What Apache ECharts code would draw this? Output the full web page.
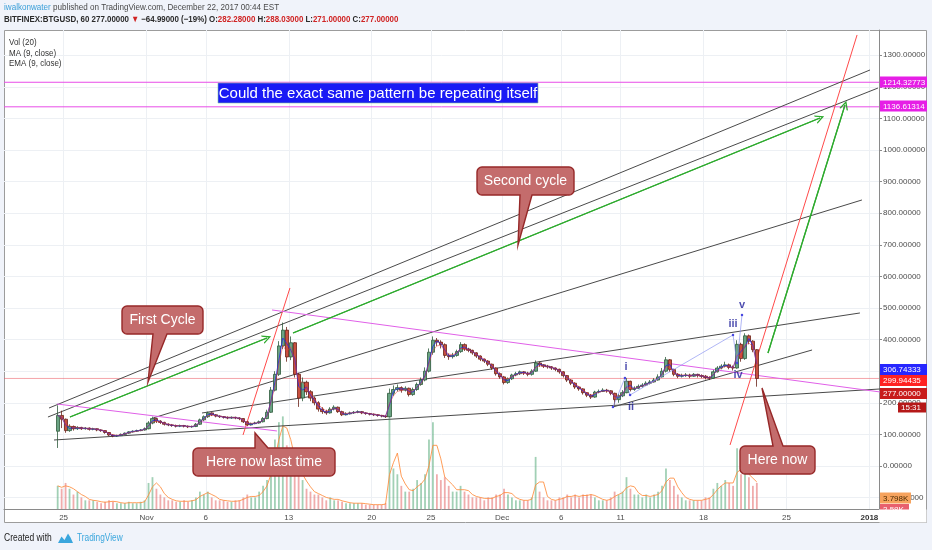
<!DOCTYPE html>
<html><head><meta charset="utf-8">
<script src="https://cdn.jsdelivr.net/npm/echarts@6/dist/echarts.min.js"></script>
<style>html,body{margin:0;padding:0;background:#f0f3fa}#c{width:932px;height:550px}</style>
</head><body><div id="c"></div><script>
// ---------- data (days since 25 Oct 2017, prices in USD) ----------
const tickDays   = [0, 7, 12, 19, 26, 31, 37, 42, 47, 54, 61, 68];
const tickLabels = ['25','Nov','6','13','20','25','Dec','6','11','18','25','2018'];
const priceTicks = [-100,0,100,200,300,400,500,600,700,800,900,1000,1100,1200,1300];
const candleStart = -0.5, candleStep = 1/3;   // 8-hour candles
const firstOpen = 110;
const closes = [160,148,112, 125,118,122, 118,120,116, 118,114,112, 106,98,95, 96,100,104, 108,110,112, 114,118,136, 150,142,138, 132,130,128, 126,128,126, 124,125,132, 146,156,168, 162,158,156, 154,152,154, 152,150,140, 130,134,136, 140,150,170, 240,290,380, 430,345,390, 290,215,265, 235,215,200, 180,172,168, 180,186,172, 162,165,168, 170,172,168, 166,164,162, 160,158,156, 230,242,248, 240,246,226, 242,258,272, 300,360,398, 392,384,350, 346,350,362, 384,370,366, 358,348,338, 332,322,310, 292,282,264, 276,288,292, 298,294,290, 300,326,320, 316,314,310, 306,298,286, 272,262,250, 244,232,224, 218,234,236, 240,238,230, 210,222,232, 268,242,246, 252,256,262, 266,272,282, 300,336,305, 290,284,286, 288,284,290, 286,284,280, 278,298,310, 316,320,312, 310,385,340, 412,395,368, 277];
const highs  = [192,175,150, 132,128,126, 124,123,122, 121,119,116, 113,107,100, 99,103,106, 110,113,115, 117,122,142, 156,152,145, 140,135,133, 131,131,130, 128,128,136, 150,160,172, 170,164,160, 158,157,157, 156,154,151, 141,137,140, 144,155,178, 250,300,395, 454,440,410, 392,295,280, 270,240,220, 205,186,178, 186,192,188, 175,170,172, 174,176,174, 170,168,166, 164,162,160, 245,255,258, 252,252,248, 248,264,280, 312,372,410, 405,398,388, 356,358,368, 392,388,374, 368,360,350, 340,335,324, 312,296,285, 280,292,298, 302,300,298, 306,334,330, 322,320,316, 312,308,300, 288,275,265, 252,246,234, 228,238,242, 246,244,240, 232,228,240, 278,270,252, 258,262,268, 272,278,290, 310,345,338, 308,294,292, 294,292,294, 292,290,288, 284,304,316, 322,330,324, 318,398,390, 420,416,398, 370];
const lows   = [57,120,105, 108,112,114, 114,115,112, 113,110,108, 102,95,91, 92,95,99, 102,106,108, 110,112,116, 132,136,133, 128,126,124, 122,123,122, 120,121,123, 130,142,152, 158,154,152, 150,148,149, 148,145,136, 126,128,132, 134,138,148, 168,236,285, 370,330,335, 280,187,205, 225,205,192, 172,165,162, 166,176,168, 158,160,163, 165,167,164, 162,160,158, 156,154,152, 154,222,236, 232,236,220, 222,238,254, 268,296,352, 380,372,342, 336,340,346, 358,364,360, 352,342,332, 326,316,304, 286,276,258, 260,272,284, 288,288,284, 286,298,314, 310,308,304, 300,292,280, 266,256,244, 238,226,218, 212,216,230, 234,232,224, 194,200,218, 230,236,238, 244,248,254, 258,264,270, 280,296,298, 284,278,280, 282,278,282, 280,278,274, 272,276,296, 306,312,306, 302,308,330, 336,385,360, 251];
const volumes = [8,7,9, 7,5,6, 4,3,3, 3,2.5,2, 2.5,3,2.5, 2,2,2, 2.5,2,2, 2.5,3,9, 11,7,5, 4,3,3, 2.5,2.5,3, 2.5,3,4, 6,5,6, 4,3,3, 3,2.5,2.5, 3,3,4, 5,4,4, 6,8,10, 18,24,30, 32,22,18, 14,12,10, 7,6,5, 5,4,3, 4,3,3, 2.5,2,2, 2,2,2, 1.5,1.5,1.5, 1.5,1.5,2, 32,14,12, 8,6,6, 7,10,9, 12,24,30, 12,10,11, 8,6,6, 8,6,5, 4,4,4, 3,4,4, 5,5,7, 5,4,3, 3,3,3, 4,18,6, 4,3,3, 3,4,4, 5,4,5, 4,5,5, 5,4,3, 3,3,4, 6,5,6, 11,7,5, 5,4,5, 4,5,6, 8,14,10, 8,5,4, 3,3,3, 3,3,4, 4,7,9, 8,10,9, 8,21,12, 13,11,8, 9];
// drawn trend lines: [startDay, startPrice, endDay, endPrice]
const blackLines   = [[-1.23,183.5,68.05,1253.2],[-1.32,155,68.72,1196],[7.55,151.9,67.37,841.8],[11.68,167.7,67.2,484.2],[-0.81,82.3,68.9,243.7],[46.36,186.7,63.16,367.1]];
const greenArrows  = [[0.54,155,17.16,405],[19.36,420.9,63.83,1101.3],[59.44,357.6,65.94,1142.4]];
const redLines     = [[15.14,98.1,19.1,563.3],[56.24,66.5,66.96,1364]];
const magentaLines = [[-0.56,196.2,18.0,110.8],[17.59,493.7,68.9,234.2]];
const levels = [1214.32773, 1136.61314];
const lastPrice = 277;
const waveDays   = [46.36,47.37,47.8,56.49,56.83,57.25];
const wavePrices = [186.7,278.5,224.7,414.6,326,477.8];
const waveNames  = ['i','ii','iii','iv','v'];
const waveLabelDays   = [47.46,47.88,56.49,56.91,57.25];
const waveLabelPrices = [313,186.7,449,288,509.5];

// ---------- derived ----------
const X_MIN = -5.03, X_MAX = 68.81, Y_MIN = -136.1, Y_MAX = 1379.7;
const n = Math.min(closes.length, highs.length, lows.length, volumes.length);
const candles = [], vols = [], ma = [], ema = [], vma = [];
let prev = firstOpen, e = null;
for (let i = 0; i < n; i++) {
  const d = candleStart + i * candleStep;
  candles.push([d, prev, closes[i], lows[i], highs[i]]);
  const up = closes[i] >= prev;
  vols.push({value: [d, volumes[i]], itemStyle: {color: up ? 'rgba(83,170,120,0.55)' : 'rgba(225,90,90,0.5)'}});
  const c0 = i > 0 ? closes[i-1] : closes[i];
  ma.push([d, (c0 + closes[i]) / 2]);
  e = e === null ? closes[i] : e + 0.55 * (closes[i] - e);
  ema.push([d, e]);
  let s = 0, k = 0;
  for (let j = Math.max(0, i - 2); j <= i; j++) { s += volumes[j]; k++; }
  vma.push([d, s / k]);
  prev = closes[i];
}
const seg = (l) => [[l[0], l[1]], [l[2], l[3]]];
const lineSeries = (l, color, w) => ({
  type: 'line', data: seg(l), showSymbol: false, silent: true, z: 4,
  lineStyle: {color: color, width: w || 1}, animation: false
});

const FONT = '"Liberation Sans", Arial, sans-serif';
const AXFONT = '"Liberation Sans Narrow", "Liberation Sans", Arial, sans-serif';

// ---------- graphic helpers ----------
function txt(x, y, text, font, fill, sx, extra) {
  return Object.assign({type: 'text', x: x, y: y, scaleX: sx || 1, z: 60, silent: true,
    style: {text: text, x: 0, y: 0, font: font, fill: fill, align: 'left', verticalAlign: 'middle',
            textAlign: 'left', textVerticalAlign: 'middle'}}, extra || {});
}
function richTxt(x, y, text, rich, font, sx) {
  const t = txt(x, y, text, font, '#333', sx);
  t.style.rich = rich;
  return t;
}
function tag(y, text, fill, textFill, x0, w, h) {
  x0 = x0 || 880; w = w || 47; h = h || 11;
  return [
    {type: 'rect', z: 70, silent: true, shape: {x: x0, y: y - h / 2, width: w, height: h}, style: {fill: fill}},
    Object.assign(txt(x0 + 3, y + 0.5, text, '8px ' + FONT, textFill || '#fff', 1), {z: 71})
  ];
}
function calloutPoly(b, side, base, tip, r) {
  const [x0, y0, x1, y1] = b, pts = [];
  const arc = (cx, cy, a0, a1) => { for (let k = 0; k <= 4; k++) { const a = a0 + (a1 - a0) * k / 4; pts.push([cx + r * Math.cos(a), cy + r * Math.sin(a)]); } };
  arc(x0 + r, y0 + r, Math.PI, 1.5 * Math.PI);
  if (side === 'top') pts.push([base[0], y0], tip, [base[1], y0]);
  arc(x1 - r, y0 + r, 1.5 * Math.PI, 2 * Math.PI);
  arc(x1 - r, y1 - r, 0, 0.5 * Math.PI);
  if (side === 'bottom') pts.push([base[1], y1], tip, [base[0], y1]);
  arc(x0 + r, y1 - r, 0.5 * Math.PI, Math.PI);
  return pts;
}
const callouts = [
  {text: 'First Cycle',        box: [122,306,203,334], side: 'bottom', base: [153,167], tip: [148,382]},
  {text: 'Second cycle',       box: [477,167,574,195], side: 'bottom', base: [520,532], tip: [518,245]},
  {text: 'Here now last time', box: [193,448,335,476], side: 'top',    base: [255,268], tip: [255,433]},
  {text: 'Here now',           box: [740,446,815,474], side: 'top',    base: [773,783], tip: [762,388]}
];

const graphics = [];
graphics.push({type: 'rect', z: -10, silent: true, shape: {x: 4.5, y: 30.5, width: 922, height: 492}, style: {fill: '#fff', stroke: '#9c9c9c', lineWidth: 1}});
// header
graphics.push(richTxt(4, 8, '{u|iwalkonwater}{t| published on TradingView.com, December 22, 2017 00:44 EST}',
  {u: {fill: '#3a9fd8', color: '#3a9fd8', font: '9px ' + FONT}, t: {fill: '#4a4a4a', color: '#4a4a4a', font: '9px ' + FONT}}, '9px ' + FONT, 0.9));
const bf = 'bold 9px ' + FONT;
graphics.push(richTxt(4, 19.5, '{k|BITFINEX:BTGUSD, 60 277.00000 }{r|\u25BC}{k| \u221264.99000 (\u221219%) O:}{r|282.28000}{k| H:}{r|288.03000}{k| L:}{r|271.00000}{k| C:}{r|277.00000}',
  {k: {fill: '#2b2b2b', color: '#2b2b2b', font: bf}, r: {fill: '#d02424', color: '#d02424', font: bf}}, bf, 0.88));
// legend
['Vol (20)', 'MA (9, close)', 'EMA (9, close)'].forEach((s, i) => graphics.push(txt(9, 43 + i * 10.3, s, '9px ' + FONT, '#333', 0.89)));
// blue text box
graphics.push({type: 'rect', z: 55, silent: true, shape: {x: 218, y: 83, width: 320, height: 20}, style: {fill: '#1a1af5', stroke: '#80c0a0', lineWidth: 0.6}});
graphics.push(Object.assign(txt(378, 93.5, 'Could the exact same pattern be repeating itself', '15px ' + FONT, '#fff', 1), {z: 56}));
graphics[graphics.length - 1].style.align = 'center'; graphics[graphics.length - 1].style.textAlign = 'center';
// callouts
callouts.forEach(c => {
  graphics.push({type: 'polygon', z: 55, silent: true, shape: {points: calloutPoly(c.box, c.side, c.base, c.tip, 5)},
    style: {fill: '#c46c6c', stroke: '#962828', lineWidth: 1.4}});
  const t = txt((c.box[0] + c.box[2]) / 2, (c.box[1] + c.box[3]) / 2, c.text, '14px ' + FONT, '#fff', 1);
  t.z = 56; t.style.align = 'center'; t.style.textAlign = 'center';
  graphics.push(t);
});
// price-axis tags
graphics.push(...tag(82, '1214.32773', '#e61ee6'));
graphics.push(...tag(106, '1136.61314', '#e61ee6'));
graphics.push(...tag(369.5, '306.74333', '#2626ff'));
graphics.push(...tag(380.5, '299.94435', '#ff2222'));
graphics.push(...tag(393.5, '277.00000', '#c81b1b'));
graphics.push(...tag(407.5, '15:31', '#b51818', '#fff', 898, 28, 10));
graphics.push(...tag(498, '3.798K', '#f6a35e', '#4a2a00', 880, 31, 11));
graphics.push(...tag(509.5, '2.58K', '#e8606e', '#fff', 880, 29, 11));
graphics.push({type: 'rect', z: 75, silent: true, shape: {x: 879.5, y: 509.6, width: 47, height: 13}, style: {fill: '#fff'}});
// footer
graphics.push(txt(4, 538, 'Created with', '10px ' + FONT, '#222', 0.85));
graphics.push({type: 'polygon', z: 60, silent: true, shape: {points: [[58,543],[61.5,536.5],[64.5,540],[68,533.5],[70.5,537.5],[73,543]]}, style: {fill: '#3aa6dd'}});
graphics.push(txt(77, 538, 'TradingView', '10px ' + FONT, '#3aa6dd', 0.83));

// ---------- chart ----------
const chart = echarts.init(document.getElementById('c'), null, {renderer: 'canvas'});
const gridPos = {left: 4, right: 53, top: 30, height: 479};
const arrowSym = 'path://M0,10 L5,0 L10,10 L8.4,10 L5,3.2 L1.6,10 Z';
const series = [];
series.push({type: 'bar', xAxisIndex: 1, yAxisIndex: 1, data: vols, barWidth: 1.8, silent: true, z: 1, animation: false});
series.push({type: 'line', xAxisIndex: 1, yAxisIndex: 1, data: vma, showSymbol: false, silent: true, z: 2,
  lineStyle: {color: 'rgba(255,140,60,0.85)', width: 1}, animation: false});
levels.forEach(v => series.push(lineSeries([X_MIN, v, X_MAX, v], '#e84ce8', 1)));
series.push(lineSeries([X_MIN, lastPrice, X_MAX, lastPrice], 'rgba(235,90,100,0.55)', 1));
blackLines.forEach(l => series.push(lineSeries(l, '#4a4a4a', 1)));
redLines.forEach(l => series.push(lineSeries(l, '#ff4a4a', 1)));
magentaLines.forEach(l => series.push(lineSeries(l, '#e060e8', 1)));
greenArrows.forEach(l => series.push(Object.assign(lineSeries(l, '#2eaa2e', 1.2), {
  markLine: {silent: true, animation: false, symbol: ['none', arrowSym], symbolSize: 9, label: {show: false},
    lineStyle: {color: '#2eaa2e', width: 1.2, type: 'solid'}, emphasis: {disabled: true},
    data: [[{coord: [l[0], l[1]]}, {coord: [l[2], l[3]]}]]}
})));
series.push({type: 'candlestick', data: candles, barWidth: 3.6, silent: true, z: 5, animation: false,
  itemStyle: {color: '#6aa383', color0: '#c9503f', borderColor: '#2f5a3c', borderColor0: '#6a2218', borderWidth: 0.8}});
series.push({type: 'line', data: ma, showSymbol: false, silent: true, z: 6, lineStyle: {color: 'rgba(40,40,230,0.8)', width: 1}, animation: false});
series.push({type: 'line', data: ema, showSymbol: false, silent: true, z: 6, lineStyle: {color: 'rgba(230,50,50,0.55)', width: 0.9}, animation: false});
series.push({type: 'line', data: waveDays.map((d, i) => [d, wavePrices[i]]), silent: true, z: 7, symbol: 'circle', symbolSize: 2.5,
  itemStyle: {color: '#4848e0'}, lineStyle: {color: 'rgba(130,140,240,0.8)', width: 0.8}, animation: false});
series.push({type: 'scatter', data: waveNames.map((s, i) => [waveLabelDays[i], waveLabelPrices[i], s]), symbolSize: 0, silent: true, z: 8,
  label: {show: true, position: 'inside', formatter: p => p.data[2], color: '#1f1f9a', fontWeight: 'bold', fontSize: 11, fontFamily: FONT}, animation: false});

chart.setOption({
  animation: false,
  backgroundColor: '#f0f3fa',
  grid: [Object.assign({}, gridPos), Object.assign({}, gridPos)],
  xAxis: [
    {type: 'value', gridIndex: 0, min: X_MIN, max: X_MAX,
     axisLine: {show: true, onZero: false, lineStyle: {color: '#8a8a8a'}},
     axisTick: {show: false, customValues: tickDays},
     axisLabel: {customValues: tickDays, margin: 5, fontSize: 8, color: '#4d4d4d', fontFamily: AXFONT,
       formatter: v => { const k = tickDays.indexOf(v); const s = k >= 0 ? tickLabels[k] : ''; return k === tickDays.length - 1 ? '{b|' + s + '}' : s; },
       rich: {b: {fontWeight: 'bold', fontSize: 8, color: '#333', fontFamily: AXFONT}}},
     splitLine: {show: true, lineStyle: {color: '#edf0f4', width: 1}}},
    {type: 'value', gridIndex: 1, min: X_MIN, max: X_MAX, show: false}
  ],
  yAxis: [
    {type: 'value', gridIndex: 0, position: 'right', min: Y_MIN, max: Y_MAX,
     axisLine: {show: true, onZero: false, lineStyle: {color: '#8a8a8a'}},
     axisTick: {show: true, inside: false, length: 3, customValues: priceTicks, lineStyle: {color: '#8a8a8a'}},
     axisLabel: {customValues: priceTicks, margin: 4, fontSize: 8, color: '#4d4d4d', fontFamily: AXFONT, formatter: v => v.toFixed(5)},
     splitLine: {show: true, lineStyle: {color: '#edf0f4', width: 1}}},
    {type: 'value', gridIndex: 1, min: 0, max: 165.5, show: false}
  ],
  series: series,
  graphic: {elements: graphics}
});
</script></body></html>
